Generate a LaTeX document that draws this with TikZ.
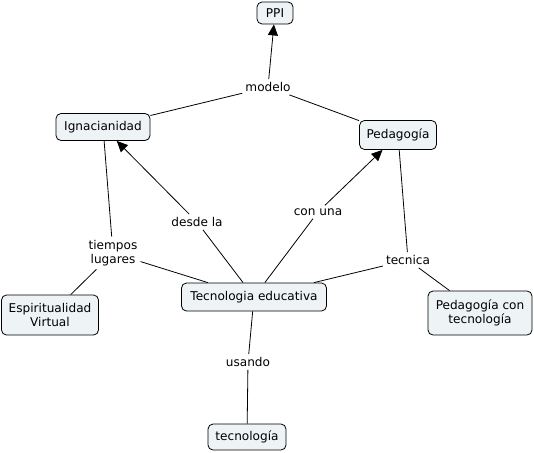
\documentclass[tikz,border=0pt]{standalone}
\usepackage{fontspec}
\setmainfont{DejaVu Sans}
\usetikzlibrary{arrows.meta}
\definecolor{boxfill}{HTML}{EEF3F5}
\begin{document}
\begin{tikzpicture}[x=1pt,y=-1pt,
  every node/.style={font=\fontsize{12.1}{14.5}\selectfont},
  concept/.style={draw=black,line width=0.8pt,fill=boxfill,rounded corners=5pt,
    inner sep=0pt,align=center},
  linkl/.style={inner sep=3pt,align=center},
  conn/.style={line width=0.8pt},
  arr/.style={conn,-{Triangle[length=11pt,width=10pt]}}]
\useasboundingbox (0,0) rectangle (534,452);
% concepts
\node[concept,minimum width=36pt,minimum height=22pt] (ppi) at (275,13) {PPI};
\node[concept,minimum width=94pt,minimum height=27pt] (ign) at (103,127) {Ignacianidad};
\node[concept,minimum width=77pt,minimum height=29pt] (ped) at (398,135) {Pedagogía};
\node[concept,minimum width=145pt,minimum height=28pt] (tec) at (254,297) {Tecnologia educativa};
\node[concept,minimum width=97pt,minimum height=40pt] (esp) at (50,315) {Espiritualidad\\Virtual};
\node[concept,minimum width=104pt,minimum height=44pt] (pct) at (480,313) {Pedagogía con\\tecnología};
\node[concept,minimum width=78pt,minimum height=26pt] (tgy) at (247,437) {tecnología};
% link labels
\node[linkl] (modelo) at (268,87) {modelo};
\node[linkl] (desde) at (197,222) {desde la};
\node[linkl] (conuna) at (318,212) {con una};
\node[linkl] (tiempos) at (113,253) {tiempos\\lugares};
\node[linkl] (tecnica) at (408,260) {tecnica};
\node[linkl] (usando) at (248,362) {usando};
% connectors
\draw[conn] (ign) -- (modelo);
\draw[conn] (ped) -- (modelo);
\draw[arr] (modelo) -- (ppi);
\draw[conn] (tec) -- (desde);
\draw[arr] (desde) -- (ign);
\draw[conn] (tec) -- (conuna);
\draw[arr] (conuna) -- (ped);
\draw[conn] (ign) -- (tiempos);
\draw[conn] (tiempos) -- (esp);
\draw[conn] (tiempos) -- (tec);
\draw[conn] (ped) -- (tecnica);
\draw[conn] (tecnica) -- (tec);
\draw[conn] (tecnica) -- (pct);
\draw[conn] (tec) -- (usando);
\draw[conn] (usando) -- (tgy);
\end{tikzpicture}
\end{document}
